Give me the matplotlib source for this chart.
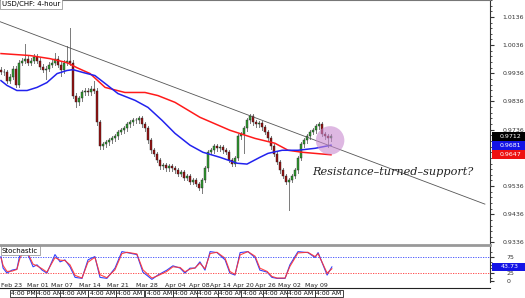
import matplotlib.pyplot as plt
from matplotlib.patches import Ellipse, Rectangle
from matplotlib.lines import Line2D

# candle closes (USD/CHF, 4-hour, sampled), opens follow previous close
closes = [0.9942, 0.9939, 0.9910, 0.9924, 0.9953, 0.9896, 0.9974, 0.9981, 0.9988, 0.9974,
          0.9981, 0.9995, 0.9981, 0.9960, 0.9949, 0.9953, 0.9967, 0.9974, 0.9988, 0.9967,
          0.9946, 0.9974, 0.9981, 0.9974, 0.9857, 0.9833, 0.9847, 0.9868, 0.9875, 0.9868,
          0.9882, 0.9875, 0.9762, 0.9677, 0.9684, 0.9691, 0.9698, 0.9705, 0.9712, 0.9727,
          0.9734, 0.9741, 0.9755, 0.9762, 0.9769, 0.9769, 0.9776, 0.9755, 0.9741, 0.9698,
          0.9663, 0.9649, 0.9628, 0.9606, 0.9610, 0.9599, 0.9606, 0.9599, 0.9592, 0.9578,
          0.9585, 0.9564, 0.9571, 0.9550, 0.9557, 0.9543, 0.9529, 0.9557, 0.9599, 0.9656,
          0.9663, 0.9677, 0.9670, 0.9674, 0.9663, 0.9656, 0.9628, 0.9614, 0.9635, 0.9712,
          0.9720, 0.9741, 0.9769, 0.9783, 0.9762, 0.9755, 0.9758, 0.9744, 0.9727, 0.9705,
          0.9677, 0.9649, 0.9621, 0.9592, 0.9571, 0.9550, 0.9557, 0.9571, 0.9592, 0.9635,
          0.9684, 0.9698, 0.9712, 0.9727, 0.9734, 0.9748, 0.9755, 0.9720, 0.9712, 0.9705,
          0.9712]
first_open = 0.9949
spike_highs = {8: 1.0041, 18: 1.0009, 22: 1.0034, 23: 1.0098, 31: 0.9910, 46: 0.9786, 83: 0.9793}
spike_lows = {15: 0.9917, 20: 0.9928, 25: 0.9815, 67: 0.9510, 81: 0.9652, 96: 0.9450, 109: 0.9673}
wick = 0.0008

# moving averages (x in candle index)
red_x = [0, 9.7, 16.3, 22, 25.3, 29.7, 34.7, 41.3, 48, 52.3, 58, 66.3, 76.3, 84.7, 91.3, 95.7, 100.3, 110]
red_y = [1.0006, 0.9999, 0.9988, 0.9974, 0.9956, 0.9935, 0.9886, 0.9868, 0.9868, 0.9857, 0.9833,
         0.9780, 0.9734, 0.9705, 0.9688, 0.9663, 0.9656, 0.9647]
blue_x = [0, 2, 5.3, 8.7, 12, 15.3, 18.7, 22, 24, 27.3, 31.3, 34.7, 39, 44.7, 49, 53.7, 58, 63,
          67.3, 73, 78.7, 82, 86.3, 89, 93.7, 99, 104.7, 110]
blue_y = [0.9910, 0.9893, 0.9875, 0.9875, 0.9886, 0.9903, 0.9935, 0.9946, 0.9949, 0.9939, 0.9928,
          0.9900, 0.9864, 0.9840, 0.9815, 0.9769, 0.9723, 0.9681, 0.9656, 0.9638, 0.9617, 0.9614,
          0.9638, 0.9652, 0.9663, 0.9663, 0.9670, 0.9681]

# trendline anchors
trend_x = [-0.3, 161.3]
trend_y = [1.0119, 0.9472]

# stochastic
stoch_x = [0, 0.7, 2, 3.7, 5.3, 6.3, 7.3, 9, 10.7, 12, 13.7, 15.3, 18, 19.7, 21.3, 23, 24.7, 27,
           29, 31.3, 33, 35.3, 38, 40.3, 42, 45.3, 47.3, 50.3, 52.3, 55.3, 57.3, 59.7, 61.3, 63,
           64.7, 66.3, 68, 69.7, 72, 74.7, 76.3, 78, 79.7, 82.3, 84.7, 86.3, 88.7, 90.3, 92,
           94.7, 96.3, 99, 102.3, 104.7, 105.7, 108.7, 110.3]
stoch_k = [75, 40, 25, 34, 37, 81, 90, 81, 44, 50, 34, 25, 81, 59, 65, 44, 12, 9, 65, 75, 12, 9,
           40, 90, 87, 81, 28, 6, 19, 34, 47, 40, 25, 40, 40, 59, 34, 90, 87, 65, 25, 19, 87, 90,
           72, 34, 28, 12, 9, 9, 50, 90, 87, 72, 87, 19, 43.73]
stoch_d = [72, 48, 30, 31, 36, 70, 86, 84, 52, 47, 38, 28, 72, 64, 63, 50, 18, 10, 58, 73, 20, 11,
           35, 84, 88, 83, 35, 10, 17, 30, 44, 42, 29, 37, 41, 55, 38, 84, 88, 70, 30, 21, 80, 90,
           76, 40, 30, 15, 10, 10, 45, 86, 88, 75, 84, 25, 38]

date_pos = [3.5, 12.3, 20.3, 29.7, 39, 48.7, 58, 66, 73, 80.7, 88, 96, 105.3]
date_labels = ["Feb 23", "Mar 01", "Mar 07", "Mar 14", "Mar 21", "Mar 28", "Apr 04",
               "Apr 08", "Apr 14", "Apr 20", "Apr 26", "May 02", "May 09"]
price_ticks = [1.0136, 1.0036, 0.9936, 0.9836, 0.9736, 0.9536, 0.9436, 0.9336]
last_labels = [0.9712, 0.9681, 0.9647]
last_colors = ["black", "#1414e6", "#ee1111"]

W, H = 525, 298
fig = plt.figure(figsize=(W / 100, H / 100), dpi=100)
ax = fig.add_axes([0, 53 / H, 490 / W, 245 / H])
axs = fig.add_axes([0, 16 / H, 490 / W, 37 / H])

xmin, xmax = -0.33, 163.0
ylo, yhi = 0.9327, 1.0193

# candles
prev = first_open
for i, c in enumerate(closes):
    o = prev
    hi = spike_highs.get(i, max(o, c) + wick)
    lo = spike_lows.get(i, min(o, c) - wick)
    ax.plot([i, i], [lo, hi], color="#7a7a7a", lw=0.7, zorder=2)
    col = "#2f9e2f" if c >= o else "#9a1010"
    h = max(abs(c - o), 0.0003)
    ax.add_patch(Rectangle((i - 0.33, min(o, c)), 0.66, h, facecolor=col,
                           edgecolor="#222222", lw=0.3, zorder=3))
    prev = c

ax.plot(red_x, red_y, color="#ff1a1a", lw=1.1, zorder=4)
ax.plot(blue_x, blue_y, color="#2222ee", lw=1.1, zorder=4)
ax.plot(trend_x, trend_y, color="#555555", lw=0.6, zorder=5)

ax.add_patch(Ellipse((109.7, 0.9698), 9.5, 0.0101, facecolor="#c889d0", alpha=0.6,
                     edgecolor="none", zorder=6))
ax.text(103.8, 0.9585, "Resistance\u2013turned\u2013support?", family="DejaVu Serif",
        style="italic", fontsize=8.1, color="#222222", va="center", ha="left", zorder=7)

ax.set_xlim(xmin, xmax)
ax.set_ylim(ylo, yhi)
ax.yaxis.tick_right()
ax.set_yticks(price_ticks)
ax.set_yticklabels([f"{t:.4f}" for t in price_ticks])
minor = [round(0.9336 + 0.002 * k, 4) for k in range(44)]
ax.set_yticks(minor, minor=True)
ax.tick_params(axis="y", which="major", length=3, labelsize=4.5, pad=6, colors="#333333")
ax.tick_params(axis="y", which="minor", length=1.5, colors="#333333")
ax.set_xticks([])
for s in ["left", "bottom"]:
    ax.spines[s].set_visible(False)
ax.spines["top"].set_color("#777777")
ax.spines["right"].set_color("#333333")
ax.spines["right"].set_linewidth(0.8)

ax.text(0.004, 0.995, "USD/CHF: 4-hour", transform=ax.transAxes, fontsize=5, va="top",
        ha="left", bbox=dict(boxstyle="square,pad=0.25", fc="white", ec="#888888", lw=0.5))

# last value labels
tr = ax.get_yaxis_transform()
bw = 33 / 490
for val, bg in zip(last_labels, last_colors):
    ax.add_patch(Rectangle((1.004, val - 0.0016), bw, 0.0032, transform=tr, facecolor=bg,
                           edgecolor="none", clip_on=False, zorder=10))
    ax.text(1.004 + bw * 0.55, val, f"{val:.4f}", transform=tr, fontsize=4.5, color="white",
            va="center", ha="center", clip_on=False, zorder=11)

# stochastic panel
axs.plot(stoch_x, stoch_k, color="#3344ff", lw=0.8)
axs.plot(stoch_x, stoch_d, color="#ff3333", lw=0.8, alpha=0.9)
axs.axhline(75, color="#3344ff", lw=0.6, ls=(0, (1.5, 1.5)))
axs.axhline(25, color="#ff3333", lw=0.6, ls=(0, (1.5, 1.5)))
axs.set_xlim(xmin, xmax)
axs.set_ylim(-2, 110)
axs.yaxis.tick_right()
axs.set_yticks([0, 25, 75])
axs.set_yticks([10, 40, 50, 60, 90], minor=True)
axs.tick_params(axis="y", which="major", length=3, labelsize=4.5, pad=9, colors="#333333")
axs.tick_params(axis="y", which="minor", length=1.5, colors="#333333")
axs.set_xticks(date_pos)
axs.set_xticklabels(date_labels)
axs.tick_params(axis="x", length=0, labelsize=4.5, pad=1, colors="#222222")
axs.spines["top"].set_color("#999999")
axs.spines["top"].set_linewidth(2)
axs.spines["left"].set_visible(False)
axs.spines["bottom"].set_visible(False)
axs.spines["right"].set_color("#333333")
axs.spines["right"].set_linewidth(0.8)
axs.text(0.004, 0.93, "Stochastic", transform=axs.transAxes, fontsize=5, va="top", ha="left",
         bbox=dict(boxstyle="square,pad=0.2", fc="white", ec="#888888", lw=0.5))
trs = axs.get_yaxis_transform()
axs.add_patch(Rectangle((1.004, 43.73 - 12), bw, 24, transform=trs, facecolor="#1414e6",
                        edgecolor="none", clip_on=False, zorder=10))
axs.text(1.004 + bw * 0.55, 43.73, "43.73", transform=trs, fontsize=4.5, color="white",
         va="center", ha="center", clip_on=False, zorder=11)

# time axis bottom line and crosshair-style boxes
fig.add_artist(Line2D([0, 490 / W], [10 / H, 10 / H], color="#222222", lw=0.8))
for k, p in enumerate(date_pos):
    px = (p * 3 + 1 + 12) / W
    fig.text(px, 4.5 / H, "4:00 PM" if k == 0 else "4:00 AM", fontsize=4.4, ha="center",
             va="center", bbox=dict(boxstyle="square,pad=0.2", fc="white", ec="#222222", lw=0.6))

plt.savefig("out.png", dpi=100)
